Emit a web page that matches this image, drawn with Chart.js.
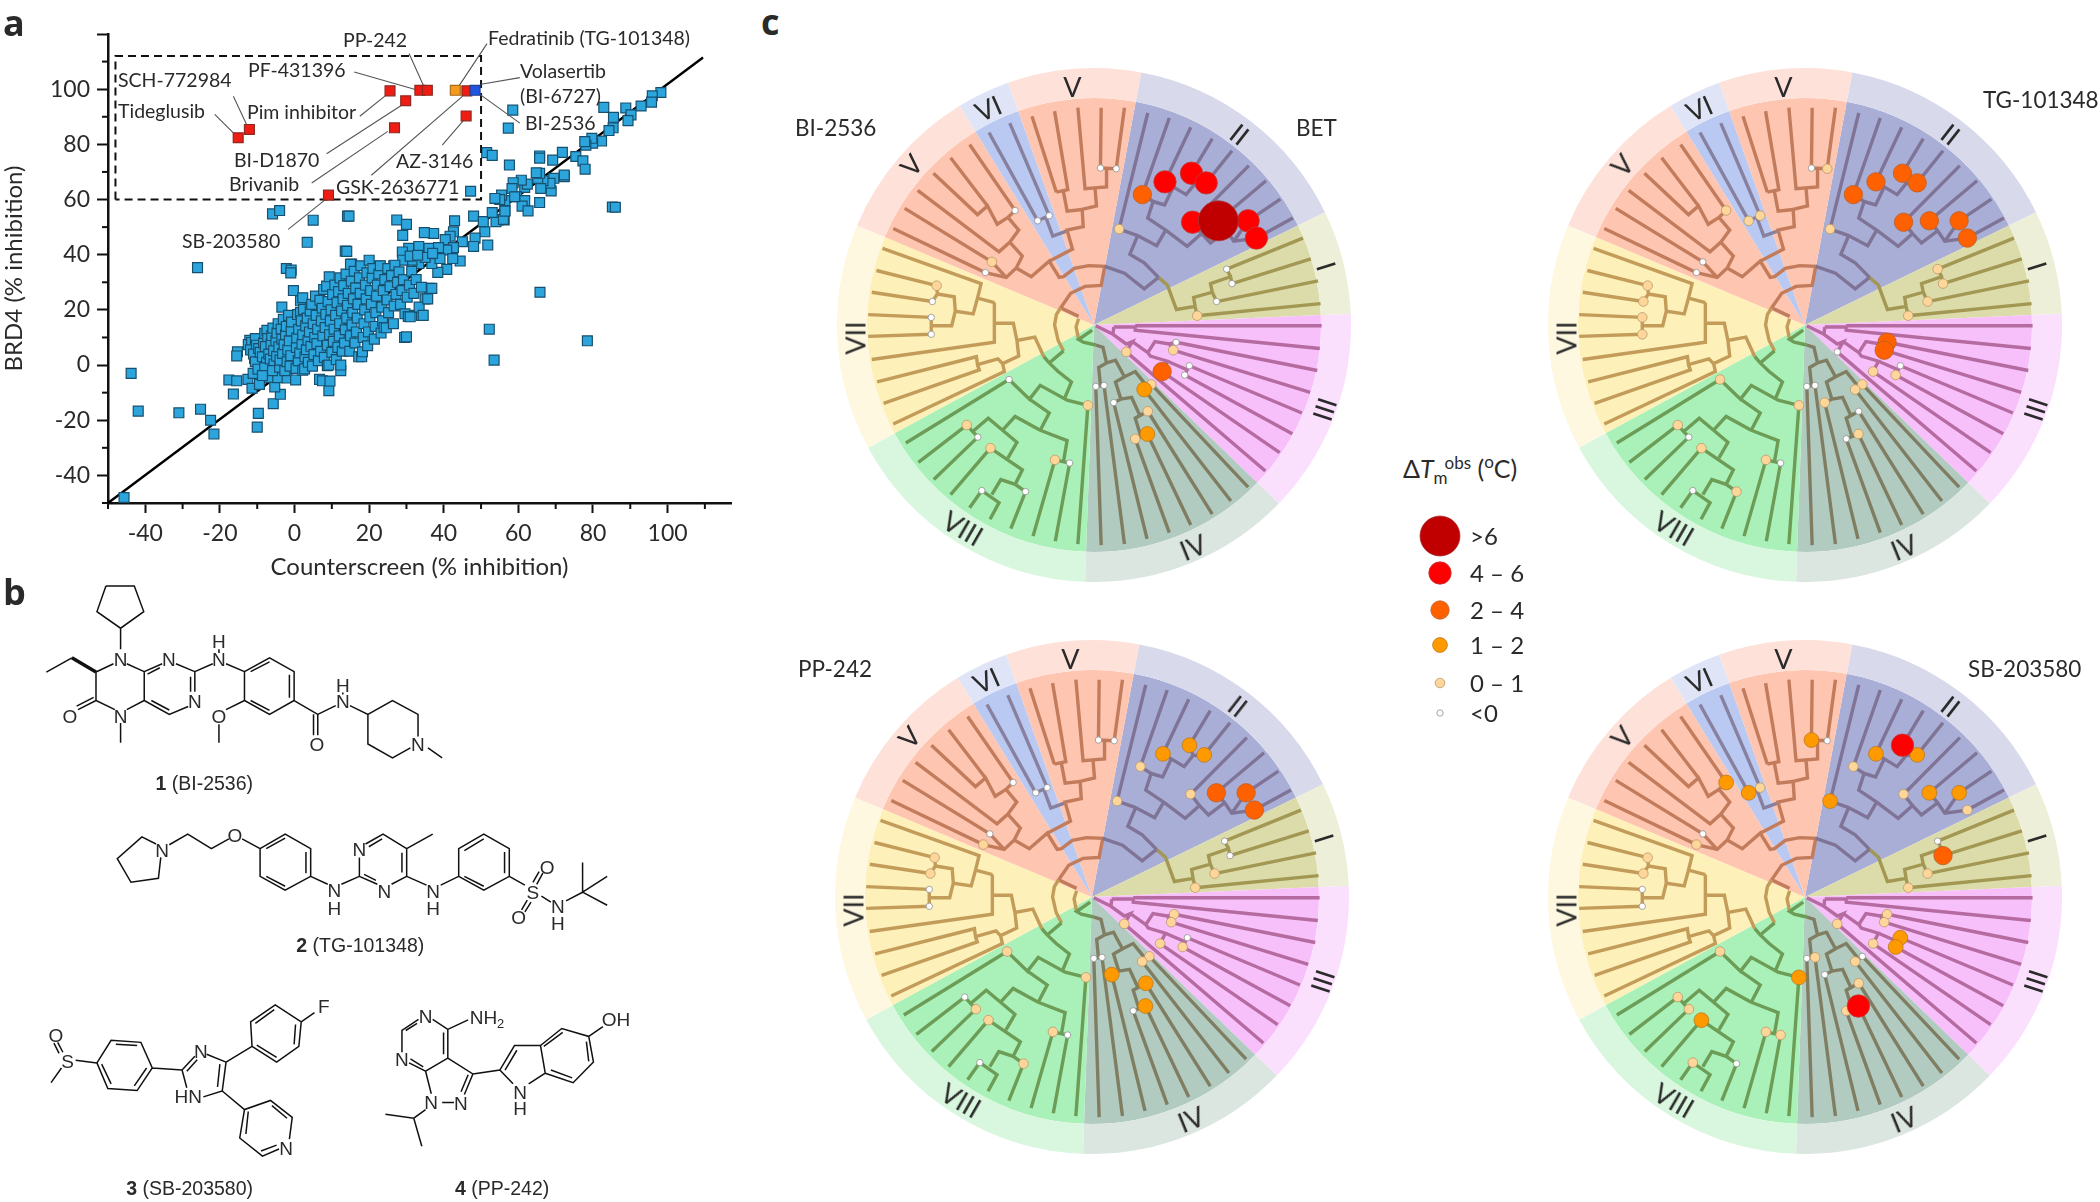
<!DOCTYPE html>
<html>
<head>
<meta charset="utf-8">
<title>BRD4 counterscreen and kinase wheels</title>
<script src="https://cdn.jsdelivr.net/npm/chart.js@4"></script>
<style>
  html, body { margin: 0; padding: 0; background: #fff; }
  #page { position: relative; width: 2100px; height: 1202px; overflow: hidden; font-family: Lato, sans-serif; color: #2a2a2a; }
  #page canvas { position: absolute; }
  .txt { position: absolute; white-space: nowrap; line-height: 1; }
  sub, sup { font-size: 68%; line-height: 0; }
</style>
</head>
<body>
<div id="page"></div>
<script>
// ---------- panel a: values, [counterscreen, BRD4] ----------
const upperArm = [[98.2,98.8],[95.9,97.6],[95.7,95.3],[92.9,93.9],[88.8,93.2],[90.2,90.7],[89.4,88.6],[82.9,93.4],[85.5,89.8],[85.4,86],[84.3,85],[82.3,81.2],[79.9,80.4],[79.7,82.2],[78.1,79.7],[77.8,81],[71.8,77.1],[69.2,74.3],[65.7,75.8],[65.7,75],[75.4,75.6],[77.3,74],[77.9,71],[58.5,92.4],[57.3,85.9],[57.6,72.5],[72.3,68.3],[72.3,68.9],[69.5,67.7],[68.8,63.1],[68.5,65.9],[66.6,66.8],[66,64],[65.2,67.7],[65.7,69.5],[64.8,69.7],[61.7,64.4],[62.4,65.6],[60.8,67],[58.6,66.1],[58.3,64],[59.5,61],[56.4,59.6],[61.7,59.6],[61,57.6],[62.6,55.9],[65.7,58.9],[85.2,57.3],[56.4,56],[55.5,61.6],[54.6,52.6],[56.2,52.6],[51.5,77],[53,76],[47.2,63]];
const middleArm = [[14.2,54],[27.4,52.6],[30,51],[29,47],[42.9,52.3],[48,54],[50.6,52],[54,52],[56,52.8],[56.4,55.8],[53,55.3],[55,60],[53.7,60.4],[59,61],[51,48.3],[48.4,46],[48,43],[51.8,43.5],[45,44.7],[42.6,48.3],[41.7,46.7],[40.4,45.5],[37.3,47.7],[34.8,48],[36,42.3],[33.3,43],[30.6,42.3],[28.9,41],[42.6,42.6],[40.8,41.7],[38.6,42.6],[44.4,37.7],[42.4,38.6],[40.8,34.7],[38.4,33.6],[36.8,36.8],[33.3,36.8],[31.5,38],[29,38],[39,38.6],[13.6,41.3],[15.3,36.6],[22.8,35.9],[26.6,36],[36.2,27.8],[35,24],[30.6,18],[34,18],[31,39.5],[35,39],[37,40.5],[33,39.8]];
const strays = [[-26,35.3],[-5.9,54.8],[-4,56],[5,52.5],[3.4,44.5],[-2.2,35],[-0.9,34.4],[-1,33.4],[-0.3,27],[65.8,26.4],[86,57.2],[-43.8,-3],[-41.9,-16.7],[-31,-17.3],[-25.2,-16],[-22.5,-20],[-21.6,-25],[-45.7,-48],[52.2,13],[53.5,1.8],[78.5,8.8],[-9.7,-17.5],[-10,-22.5],[-5.7,-14],[-3.8,-10.6],[-16.4,-10.5],[-17.6,-5.4],[-15.5,-5.7],[-15.3,4.8],[-15.5,3.3]];
const clusterLow = [[-12.5,-5.2],[-11.4,-8.4],[-9.4,-7],[-5.3,-7.9],[-6.7,-4.5],[-4.5,-4.6],[-2,-4.7],[-11.1,-3],[-8.5,0.6],[-10.7,2.4],[-12,9],[-12.4,7.4],[-11.5,8.2],[-11.8,5.5],[-10.5,9.6],[-10.2,7.2],[-11,4],[-10.5,1.2],[-9.6,6],[-9.2,4.6],[-9.8,-1.5],[-8.6,3],[-8.3,8],[-8,11.5],[-7.4,12.6],[-7.2,9.6],[-7.8,6.7],[-7.5,1],[-8,-1],[-8.6,-3.8],[-6.9,4],[-6.5,2.2],[-6.3,7.6],[-6.1,10.7],[-5.8,13.4],[-5.6,5.2],[-5.5,0.4],[-5.9,-2],[-5,8.8],[-4.8,3.2],[-4.7,11.6],[-4.4,15],[-4.2,6.6],[-4,-0.8],[-3.9,1.8],[-3.6,13],[-3.4,9.4],[-3.4,21],[-3.2,4.2],[-3,16.6],[-2.8,7.4],[-2.6,-2],[-2.4,11],[-2.2,14],[-2,1.2],[-1.8,5.5],[-1.6,18],[-1.4,8.8],[-1.2,-0.4],[-1,3.4],[-0.9,12.4],[-0.8,15.6]];
const clusterMid = [[0.3,-5.4],[0.4,-1.2],[0.5,6.4],[0.6,9.8],[0.8,18.3],[1,1.6],[1.1,13],[1.4,4.4],[1.6,19],[1.6,23.3],[1.8,16],[2,7.6],[2.2,-1.9],[2.2,11],[2.2,24.4],[2.4,20.2],[2.7,-1.4],[2.8,3],[3,14.2],[3.2,5.6],[3.4,17],[3.6,9],[3.7,1],[4,12],[4.2,19.6],[4.4,6.8],[4.6,22],[4.8,-0.4],[5,15],[5.2,3.8],[5.4,10],[5.6,25],[5.8,18],[6,7.8],[6.2,13],[6.4,1.6],[6.7,-5.2],[6.8,23.5],[7,5],[7.2,16],[7.4,20.6],[7.5,-5.7],[7.6,10.6],[7.8,27.4],[8,2.8],[8.2,13.6],[8.4,18.4],[8.6,28.6],[8.8,-0.2],[8.8,7.2],[9,23],[9.2,0],[9.2,-9.3],[9.3,32],[9.4,11],[9.5,-5.8],[9.6,16],[9.8,20],[10,4.6],[10.2,25.6],[10.4,8.6],[10.6,13],[10.8,29],[11,18],[11.2,2],[11.4,22.6],[11.6,6.4],[11.8,26.6],[12,10.6],[12.1,15],[12.2,31.6],[12.4,-2],[12.4,0],[12.6,19.6],[12.8,5]];
const clusterHigh = [[13,24],[13.2,28.8],[13.4,8],[13.6,12.8],[13.8,33],[14,17],[14,41.2],[14.2,21.6],[14.4,26],[14.6,54],[14.8,5],[15,10.6],[15,36.5],[15.2,30.4],[15.4,14.6],[15.6,19],[15.8,24],[16,34],[16.2,8],[16.4,28],[16.6,12],[16.8,17],[17,22],[17.2,3],[17.4,31.6],[17.6,26],[17.8,36],[18,3],[18.2,4.8],[18.4,10],[18.6,15],[18.8,20],[19,29],[19.2,24],[19.4,33.4],[19.6,7],[19.8,12],[20,38],[20.2,17.4],[20.4,27],[20.6,22],[20.8,31.6],[21,35],[21.4,9.4],[21.6,14],[21.8,19],[22,25],[22.2,29],[22.6,33],[23,36],[23.2,11.6],[23.4,21],[23.6,16],[23.8,27],[24,13.6],[24.2,31],[24.6,13.5],[24.8,23.6],[25,35],[25.2,19],[25.6,28.4],[26,32.4],[26.5,15],[26.7,21.4],[26.9,36.2],[27.2,25.6],[27.6,30],[28,33.8],[28.4,22],[28.8,27],[29.2,31],[29.5,10],[29.6,18.6],[30,10.2],[30.2,24.6],[30.5,17.6],[30.8,29],[31,17.5],[31.4,34],[32,26],[32.6,31],[33.4,21],[34,28.2],[34.5,18],[35.7,24],[36.8,27.8]];
const hitsRed = [[-15.1,82.4],[-12.1,85.4],[25.6,99.4],[29.8,95.8],[26.8,86],[33.6,99.6],[35.6,99.6],[46.2,99.4],[46,90.3],[9.1,61.6]];
const hitOrange = [[43.1,99.6]];
const hitBlue = [[48.4,99.6]];
const identityLine = [[-50,-50],[109.5,111.5]];
const hitWindow = [[-48,60],[-48,112],[50,112],[50,60],[-48,60]];
const leaderLines = [
  [[30.7,112.9],[34.8,100.6]], [[16,106.2],[32.6,99.8]], [[51.6,116.5],[44,101]], [[60.4,104.2],[50,101.8]],
  [[60.4,87.7],[49.7,98.1]], [[-16.4,97.4],[-12.6,86.5]], [[-21.4,90.9],[-16,83.6]], [[17.5,90.2],[24.8,98.1]],
  [[8.6,76.6],[28.6,94.1]], [[4.6,66],[25,84.7]], [[20.6,68.8],[45,97.4]], [[39.6,79.7],[45.3,88.7]], [[-1.7,49.2],[8,59.7]]
];
const hitLabels = [
  ["PP-242",343,40],["Fedratinib (TG-101348)",488,38],["PF-431396",248,70],["SCH-772984",118,80],
  ["Volasertib",520,71],["(BI-6727)",520,96],["Tideglusib",118,111],["Pim inhibitor",247,112],
  ["BI-2536",525,123],["BI-D1870",234,160],["AZ-3146",396,161],["Brivanib",229,184],
  ["GSK-2636771",336,187],["SB-203580",182,241]
];

// ---------- panel c: clade sectors, degrees clockwise starting at 10.6 ----------
const cladeNames = ["II","I","III","IV","VIII","VII","V","VI","V"];
const cladeSpan = [53.4,23.5,46.5,48,59.5,51.3,35.7,12,30.1];
const cladeInner = ["#a9aed6","#dcdcab","#f7c0fb","#b2cbc0","#a9f1b8","#fdf0b9","#fec5b1","#b9c9f1","#fec5b1"];
const cladeOuter = ["#d8daec","#edefd8","#fbe0fe","#dce6e1","#d9f7df","#fef8e1","#fee1d9","#dfe5f7","#fee1d9"];

// tree branches, traced in the units of the first wheel
const treeII = [[[795,600],[850,620],[905,665],[945,632]],[[945,632],[905,590],[865,565],[885,515]],[[835,492],[885,510],[940,540],[965,495]],[[835,492],[915,155]],[[965,495],[915,460],[930,412],[900,392]],[[900,392],[975,170]],[[930,412],[962,422],[985,372]],[[963,355],[1022,392],[1047,360]],[[1037,330],[1047,360],[1078,358]],[[963,355],[1035,197]],[[1037,330],[1095,230]],[[1078,358],[1150,265]],[[965,495],[1025,542],[1065,505],[1040,472]],[[1065,505],[1090,532],[1135,497],[1112,468]],[[1135,497],[1155,527],[1218,518]],[[1155,527],[1195,468]],[[1040,472],[1197,308]],[[1112,468],[1245,352]],[[1195,468],[1285,405]],[[1218,518],[1320,460]]];
const treeI = [[[945,632],[970,655],[995,725],[1047,716],[1053,743]],[[1053,743],[1397,708]],[[1047,716],[1043,690],[1095,675],[1107,702]],[[1107,702],[1390,642]],[[1095,675],[1090,650],[1146,630],[1150,650]],[[1150,650],[1370,578]],[[1146,630],[1135,608]],[[1135,608],[1348,518]]];
const treeIII = [[[770,772],[818,797]],[[820,776],[818,797]],[[820,776],[880,776]],[[880,772],[1400,772]],[[880,772],[880,785],[1395,838]],[[818,797],[855,825],[872,818],[855,848]],[[855,848],[1243,1193]],[[872,818],[915,850],[935,818],[975,825],[994,820]],[[975,825],[986,843]],[[994,820],[1388,902]],[[986,843],[1368,965]],[[915,850],[922,860],[970,875],[955,905]],[[955,905],[1283,1140]],[[970,875],[1025,900],[1031,888]],[[1025,900],[1018,915]],[[1031,888],[1345,1025]],[[1018,915],[1318,1085]]];
const treeIV = [[[770,828],[790,835],[800,880],[778,893],[783,945]],[[770,948],[793,945]],[[770,948],[785,1408]],[[793,945],[850,1405]],[[800,880],[825,872],[850,920],[825,935],[840,985],[820,995]],[[820,995],[913,1390]],[[850,920],[880,905],[915,950]],[[905,957],[925,942]],[[905,957],[1147,1280]],[[925,942],[1195,1240]],[[840,985],[870,980],[892,1030]],[[915,1020],[880,1040],[895,1090]],[[880,1100],[914,1086]],[[880,1100],[975,1372]],[[914,1086],[1035,1350]],[[915,1020],[1095,1318]]];
const treeVIII = [[[760,785],[722,812],[735,820],[770,828]],[[680,845],[640,880]],[[625,862],[640,880],[665,905],[702,935],[682,985]],[[748,1003],[690,988],[615,945],[585,985],[528,928]],[[528,928],[240,1112]],[[585,985],[640,1025],[615,1075]],[[748,1003],[720,1405]],[[615,1075],[690,1105],[680,1165]],[[656,1161],[697,1170]],[[656,1161],[595,1382]],[[697,1170],[657,1397]],[[615,1075],[545,1035],[510,1075]],[[510,1075],[470,1040],[425,1080]],[[410,1060],[441,1095]],[[410,1060],[275,1168]],[[441,1095],[318,1218]],[[510,1075],[550,1110],[525,1155]],[[476,1127],[565,1190],[545,1232]],[[476,1127],[365,1262]],[[574,1253],[545,1232],[505,1218],[480,1262]],[[452,1250],[500,1285],[475,1333]],[[452,1250],[418,1300]],[[574,1253],[533,1360]]];
const treeVII = [[[680,845],[665,815],[655,770],[660,740],[672,720]],[[722,752],[715,775],[722,812]],[[625,862],[600,805],[550,815],[540,765],[487,765]],[[487,705],[487,820],[145,870]],[[487,705],[440,692],[450,650],[175,548]],[[440,692],[428,738],[378,730],[375,688],[328,680]],[[326,656],[328,680],[314,702]],[[326,656],[158,612]],[[314,702],[145,675]],[[378,730],[368,772],[312,772]],[[311,748],[311,797]],[[311,748],[135,740]],[[311,797],[135,803]],[[550,815],[555,860],[510,882],[497,868],[440,885],[437,862],[160,935]],[[440,885],[445,900],[178,997]],[[510,882],[515,905],[205,1057]]];
const treeV = [[[722,745],[672,720],[700,678],[740,658],[785,655],[795,600],[750,598],[710,606],[680,630],[668,632],[640,585],[590,630],[548,605],[565,570],[530,530],[500,558],[273,380]],[[548,605],[520,632],[462,618],[205,490]],[[520,632],[480,587],[237,432]],[[530,530],[555,495],[525,458],[545,438],[418,247]],[[525,458],[495,478],[468,425],[440,450],[317,330]],[[468,425],[365,285]],[[640,585],[705,550],[690,495],[735,485],[732,435],[690,440],[680,385]],[[660,385],[692,378],[655,150]],[[660,385],[592,165]],[[732,435],[772,425],[768,375]],[[720,140],[740,375],[800,370],[800,320]],[[785,140],[783,315],[827,317],[850,140]]];
const treeVI = [[[690,497],[650,512],[632,462]],[[608,468],[640,453],[530,185]],[[608,468],[472,212]]];
const treeSets = [[treeII,"#7f7396"],[treeI,"#a39853"],[treeIII,"#b56ba0"],[treeIV,"#807e62"],[treeVIII,"#6c9c56"],[treeVII,"#c39c59"],[treeV,"#c27c5b"],[treeVI,"#87819f"]];

// kinases that were screened, same order in every wheel
const kinaseNodes = [[835,492],[900,392],[963,355],[1037,330],[1078,358],[1040,472],[1112,468],[1195,468],[1218,518],[1135,608],[1150,650],[1107,702],[1053,743],[855,848],[994,820],[986,843],[955,905],[1031,888],[1018,915],[925,942],[905,957],[770,948],[793,945],[820,995],[915,1020],[880,1100],[914,1086],[748,1003],[528,928],[410,1060],[441,1095],[476,1127],[656,1161],[697,1170],[574,1253],[452,1250],[326,656],[314,702],[311,748],[311,797],[480,587],[462,618],[545,438],[608,468],[640,453],[783,315],[827,317]];
// temperature shift bin per node: 0 is <0, 1 is 0-1, 2 is 1-2, 3 is 2-4, 4 is 4-6, 5 is >6
const binsBI2536 = [1,3,4,4,4,4,5,4,4,0,0,0,1,1,0,1,3,0,0,1,2,0,0,0,1,1,2,1,0,1,0,1,1,0,0,0,1,0,0,0,1,0,0,0,0,0,0];
const binsTG101348 = [1,3,3,3,3,3,3,3,3,1,1,1,1,0,3,3,1,0,1,1,1,0,0,1,0,0,1,1,1,1,0,1,1,0,1,0,1,1,1,1,0,0,1,1,1,0,1];
const binsPP242 = [1,1,2,2,2,1,3,3,3,0,0,1,1,1,1,1,1,0,1,1,1,0,0,2,2,0,2,1,1,0,1,1,1,0,1,0,1,1,0,0,0,1,0,0,0,0,0];
const binsSB203580 = [2,1,2,4,2,1,2,2,1,0,3,1,1,1,1,1,1,2,2,0,1,0,1,0,1,1,4,2,1,1,1,2,1,1,0,1,1,1,0,0,0,1,2,2,1,2,0];
const binFill = ["#ffffff","#ffd699","#ff9900","#ff6000","#ff0000","#c00000"];
const binEdge = ["#8f8f8f","#b9986a","#b97a20","#b9602a","#c23a3a","#a83838"];
const binRadius = [3.2,4.8,7.4,9.2,11.2,20];

const wheelNames = ["BI-2536","TG-101348","PP-242","SB-203580"];
const wheelBins = [binsBI2536,binsTG101348,binsPP242,binsSB203580];
const wheelCentres = [[1094,325],[1805,325],[1092,897],[1805,897]];
const ringLabels = [["V",705,78,0],["VI",470,140,-24],["V",255,305,-48],["VII",97,808,-90],["VIII",400,1360,30],["IV",1040,1415,-22],["III",1408,1015,-72],["I",1415,600,72],["II",1172,215,38]];
const wheelTitles = [["BI-2536",795,128],["BET",1296,128],["TG-101348",1983,100],["PP-242",798,669],["SB-203580",1968,669]];

const legendBins = [5,4,3,2,1,0];
const legendTexts = [">6","4 – 6","2 – 4","1 – 2","0 – 1","<0"];
const legendY = [536,573,610,645,683,713];

// ---------- panel b: bonds of the four compounds, in sketch units ----------
const bonds1 = [[[224,15],[284,15],[304,80],[255,122],[205,80],[224,15]],[[255,122],[255,175]],[[240,212],[203,233],[203,305],[243,328]],[[268,328],[305,305],[305,232],[268,212]],[[305,232],[343,212]],[[312,238],[338,222]],[[372,212],[412,232],[412,283]],[[403,245],[403,283]],[[398,320],[358,340],[305,305]],[[358,329],[320,305]],[[203,305],[165,328]],[[198,297],[162,319]],[[255,362],[255,412]],[[152,197],[98,233]],[[412,232],[450,212]],[[478,212],[517,232]],[[517,232],[570,197],[622,232],[622,305],[570,340],[517,305],[517,232]],[[530,232],[570,207]],[[612,240],[612,298]],[[570,330],[530,305]],[[517,305],[478,328]],[[463,365],[463,412]],[[622,305],[672,340],[672,393]],[[663,340],[663,393]],[[672,340],[710,318]],[[740,318],[778,340],[830,305],[884,340],[884,396]],[[868,425],[830,450],[778,415],[778,340]],[[905,425],[935,450]],[[463,175],[463,185]],[[725,285],[725,290]]];
const bonds2 = [[[330,668],[300,650],[248,705],[277,765],[335,755],[340,702]],[[358,670],[397,643],[447,680],[484,655]],[[512,655],[550,680]],[[550,680],[603,643],[657,680],[657,750],[603,785],[550,750],[550,680]],[[563,680],[603,653]],[[647,688],[647,742]],[[603,775],[563,750]],[[657,750],[693,770]],[[722,770],[760,750],[760,702]],[[773,668],[810,643],[860,680],[860,750],[828,770]],[[798,770],[760,750]],[[780,675],[808,655]],[[850,690],[850,740]],[[795,760],[770,745]],[[860,680],[915,643]],[[860,750],[902,772]],[[932,772],[970,750],[970,680],[1023,643],[1077,680],[1077,750],[1023,785],[970,750]],[[982,685],[1023,655]],[[1067,688],[1067,742]],[[1023,775],[982,750]],[[1077,750],[1110,772]],[[1135,770],[1148,742]],[[1127,765],[1140,738]],[[1115,810],[1103,835]],[[1123,815],[1110,840]],[[1145,800],[1165,815]],[[1197,812],[1232,790],[1232,715]],[[1232,790],[1284,750]],[[1232,790],[1284,823]]];
const bonds3 = [[[108,1272],[130,1235]],[[133,1195],[122,1170]],[[125,1198],[114,1172]],[[160,1215],[205,1222]],[[205,1222],[235,1165],[298,1170],[322,1235],[290,1292],[228,1287],[205,1222]],[[245,1175],[290,1178]],[[310,1235],[284,1280]],[[235,1275],[215,1225]],[[322,1235],[385,1240],[412,1205]],[[395,1243],[417,1214]],[[437,1200],[478,1220],[470,1293],[430,1308]],[[465,1225],[460,1283]],[[395,1285],[385,1240]],[[478,1220],[533,1180],[530,1118],[582,1075],[637,1118],[632,1180],[585,1220],[533,1180]],[[540,1122],[580,1087]],[[625,1125],[622,1175]],[[585,1208],[543,1177]],[[637,1118],[665,1095]],[[470,1293],[517,1340],[572,1317],[618,1360],[612,1415]],[[590,1440],[555,1458],[507,1412],[517,1340]],[[525,1345],[520,1402]],[[575,1330],[607,1362]],[[552,1445],[585,1430]]];
const bonds4 = [[[850,1195],[850,1140],[885,1112]],[[915,1112],[947,1137],[947,1210],[900,1243],[865,1222]],[[858,1140],[882,1122]],[[938,1145],[938,1200]],[[895,1232],[868,1212]],[[947,1137],[990,1113]],[[947,1210],[1000,1250],[982,1302]],[[990,1252],[975,1295]],[[960,1322],[935,1322]],[[912,1300],[900,1243]],[[900,1340],[875,1362],[815,1352]],[[875,1362],[892,1433]],[[1000,1250],[1057,1240],[1088,1178],[1143,1178],[1153,1248],[1118,1275]],[[1085,1275],[1057,1240]],[[1068,1240],[1093,1190]],[[1143,1178],[1188,1135],[1245,1155],[1255,1220],[1212,1272],[1153,1248]],[[1150,1180],[1190,1145]],[[1240,1168],[1245,1218]],[[1210,1260],[1165,1240]],[[1245,1155],[1275,1130]]];
const wedgeBond = [[[203,233],[152,197]]];
const atomLabels = [["N",255,200],["N",357,200],["N",412,305],["N",255,345],["O",148,343],["N",463,200],["H",463,155],["O",463,345],["N",725,305],["H",725,265],["O",670,415],["N",884,415],
  ["N",343,682],["O",497,645],["N",760,680],["N",813,787],["N",707,785],["H",707,830],["N",916,787],["H",916,830],["S",1127,790],["O",1157,725],["O",1097,852],["N",1180,825],["H",1180,868],
  ["O",118,1150],["S",143,1218],["N",425,1192],["HN",398,1305],["F",685,1078],["N",605,1438],
  ["N",900,1103],["N",850,1212],["N",912,1320],["N",975,1322],["N",1100,1295],["H",1100,1335],["OH",1303,1110]];
const compoundCaptions = [["1"," (BI-2536)",432,517],["2"," (TG-101348)",762,927],["3"," (SB-203580)",401,1540],["4"," (PP-242)",1062,1540]];

// ---------- helpers ----------
const page = document.getElementById("page");
const inkFont = "Lato, sans-serif";
const ink = "#2a2a2a";

function addCanvas(x, y, w, h) {
  const c = document.createElement("canvas");
  c.width = w; c.height = h;
  c.style.left = x + "px"; c.style.top = y + "px";
  c.style.width = w + "px"; c.style.height = h + "px";
  page.appendChild(c);
  return c.getContext("2d");
}
function addText(html, x, y, size, opts) {
  opts = opts || {};
  const d = document.createElement("div");
  d.className = "txt";
  d.innerHTML = html;
  d.style.left = x + "px"; d.style.top = y + "px";
  d.style.fontSize = size + "px";
  d.style.fontFamily = opts.family || inkFont;
  d.style.fontWeight = opts.weight || 400;
  d.style.transform = "translate(" + (opts.center ? "-50%" : "0") + ",-50%) rotate(" + (opts.rot || 0) + "deg)";
  page.appendChild(d);
}
function toPoints(pairs) { return pairs.map(p => ({x: p[0], y: p[1]})); }
function withGaps(lines) {
  const out = [];
  lines.forEach(l => { l.forEach(p => out.push({x: p[0], y: p[1]})); out.push({x: null, y: null}); });
  return out;
}
// autoPadding off: the big circles must not shrink the plot area
const baseOptions = {
  responsive: false, animation: false, events: [],
  layout: {autoPadding: false},
  plugins: {legend: {display: false}, tooltip: {enabled: false}}
};
function lineSet(data, color, width, extra) {
  return Object.assign({data: data, showLine: true, pointRadius: 0, borderColor: color, borderWidth: width, spanGaps: false, clip: false, borderCapStyle: "butt", borderJoinStyle: "miter"}, extra || {});
}
function squareSet(pairs, fill, edge) {
  return {data: toPoints(pairs), pointStyle: "rect", pointRadius: 7, backgroundColor: fill, borderColor: edge, borderWidth: 1.2, pointBorderColor: edge, clip: false};
}

// minor ticks at the odd tens, shorter than the labelled ones
const minorTicks = {
  id: "minorTicks",
  afterDraw(chart) {
    const c = chart.ctx, xs = chart.scales.x, ys = chart.scales.y;
    const tens = [-50,-30,-10,10,30,50,70,90,110];
    c.save();
    c.strokeStyle = "#111"; c.lineWidth = 2;
    tens.forEach(v => {
      const px = xs.getPixelForValue(v), py = ys.getPixelForValue(v);
      c.beginPath(); c.moveTo(px, ys.bottom); c.lineTo(px, ys.bottom + 6); c.stroke();
      c.beginPath(); c.moveTo(xs.left, py); c.lineTo(xs.left - 6, py); c.stroke();
    });
    c.restore();
  }
};

// ---------- panel a ----------
const tickFont = {family: inkFont, size: 23, weight: "400"};
const axisTitleFont = {family: inkFont, size: 24, weight: "400"};
new Chart(addCanvas(0, 0, 760, 600), {
  type: "scatter",
  data: {datasets: [
    squareSet(hitBlue, "#1f56e0", "#23408f"),
    squareSet(hitOrange, "#f59a1e", "#a86c1a"),
    squareSet(hitsRed, "#ee1c12", "#8c2a22"),
    lineSet(withGaps(leaderLines), "#555", 1.1),
    lineSet(toPoints(hitWindow), "#111", 2, {borderDash: [8, 5]}),
    squareSet([].concat(upperArm, middleArm, strays, clusterLow, clusterMid, clusterHigh), "#2ca5dc", "#17506f"),
    lineSet(toPoints(identityLine), "#000", 2.4)
  ]},
  options: Object.assign({}, baseOptions, {
    layout: {autoPadding: false, padding: {top: 34, right: 29, left: 0, bottom: 0}},
    scales: {
      x: {
        type: "linear", min: -50, max: 117,
        afterFit(s) { s.height = 97; },
        border: {display: true, color: "#111", width: 2.5},
        grid: {drawOnChartArea: false, tickLength: 10, tickColor: "#111", tickWidth: 2},
        ticks: {stepSize: 20, includeBounds: false, autoSkip: false, maxRotation: 0, padding: 7, color: ink, font: tickFont, callback: v => String(v)},
        title: {display: true, text: "Counterscreen (% inhibition)", color: ink, font: axisTitleFont, padding: {top: 0, bottom: 18}}
      },
      y: {
        type: "linear", min: -50, max: 120,
        afterFit(s) { s.width = 108; },
        border: {display: true, color: "#111", width: 2.5},
        grid: {drawOnChartArea: false, tickLength: 11, tickColor: "#111", tickWidth: 2},
        ticks: {stepSize: 20, includeBounds: false, autoSkip: false, padding: 7, color: ink, font: tickFont, callback: v => v > 100 ? "" : String(v)},
        title: {display: true, text: "BRD4 (% inhibition)", color: ink, font: axisTitleFont, padding: {top: 0, bottom: 0}}
      }
    }
  }),
  plugins: [minorTicks]
});
hitLabels.forEach(l => addText(l[0], l[1], l[2], 19.5));
addText("a", 3, 23, 36, {weight: 700, family: "'Open Sans', sans-serif"});
addText("b", 3, 592, 36, {weight: 700, family: "'Open Sans', sans-serif"});
addText("c", 761, 22, 36, {weight: 700, family: "'Open Sans', sans-serif"});

// ---------- panel b ----------
new Chart(addCanvas(0, 580, 741, 622), {
  type: "scatter",
  data: {datasets: [
    lineSet(withGaps([].concat(bonds1, bonds2, bonds3, bonds4)), "#111", 1.5),
    lineSet(withGaps(wedgeBond), "#111", 3.5)
  ]},
  options: Object.assign({}, baseOptions, {
    scales: {
      x: {type: "linear", display: false, min: 0, max: 1567},
      y: {type: "linear", display: false, min: 0, max: 1574, reverse: true}
    }
  })
});
const sketchX = x => x / 2.115, sketchY = y => 580 + y / 2.53;
const chemFont = "'Liberation Sans', Arial, sans-serif";
atomLabels.forEach(a => addText(a[0], sketchX(a[1]), sketchY(a[2]), 19, {center: true, family: chemFont}));
addText("NH<sub>2</sub>", sketchX(1030), sketchY(1105), 19, {center: true, family: chemFont});
compoundCaptions.forEach(c => addText("<b>" + c[0] + "</b>" + c[1], sketchX(c[2]), sketchY(c[3]), 19.5, {center: true, family: chemFont}));

// ---------- panel c ----------
function drawWheel(idx) {
  const cx = wheelCentres[idx][0], cy = wheelCentres[idx][1], r = 257;
  new Chart(addCanvas(cx - r, cy - r, 2 * r, 2 * r), {
    type: "pie",
    data: {labels: cladeNames, datasets: [
      {data: cladeSpan, backgroundColor: cladeOuter, borderWidth: 0, weight: 30},
      {data: cladeSpan, backgroundColor: cladeInner, borderWidth: 0, weight: 227}
    ]},
    options: Object.assign({}, baseOptions, {rotation: 10.6, cutout: 0})
  });
  const sets = [];
  for (let b = 0; b < binFill.length; b++) {
    const pts = kinaseNodes.filter((n, i) => wheelBins[idx][i] === b);
    sets.push({data: toPoints(pts), pointRadius: binRadius[b], backgroundColor: binFill[b], borderColor: binEdge[b], borderWidth: 0.8, clip: false, order: -b});
  }
  treeSets.forEach(t => sets.push(lineSet(withGaps(t[0]), t[1], 3.4, {order: 1})));
  new Chart(addCanvas(cx - r, cy - r, 2 * r, 2 * r), {
    type: "scatter",
    data: {datasets: sets},
    options: Object.assign({}, baseOptions, {
      scales: {
        x: {type: "linear", display: false, min: 48, max: 1482},
        y: {type: "linear", display: false, min: 25, max: 1515, reverse: true}
      }
    })
  });
  ringLabels.forEach(l => addText(l[0], cx + (l[1] - 765) / 2.79, cy + (l[2] - 770) / 2.9, 27, {center: true, rot: l[3]}));
}
wheelNames.forEach((n, i) => drawWheel(i));
wheelTitles.forEach(t => addText(t[0], t[1], t[2], 22.5));

// legend of the temperature shift bins
new Chart(addCanvas(1400, 500, 80, 240), {
  type: "scatter",
  data: {datasets: legendBins.map((b, i) => ({
    data: [{x: 40, y: legendY[i]}], pointRadius: binRadius[b], backgroundColor: binFill[b], borderColor: binEdge[b], borderWidth: 0.8, clip: false, order: i
  }))},
  options: Object.assign({}, baseOptions, {
    scales: {
      x: {type: "linear", display: false, min: 0, max: 80},
      y: {type: "linear", display: false, min: 500, max: 740, reverse: true}
    }
  })
});
legendTexts.forEach((t, i) => addText(t.replace("<", "&lt;").replace(">", "&gt;"), 1470, legendY[i], 24));
addText("Δ<i>T</i><sub>m</sub><sup style='margin-left:-3px'>obs</sup> (<sup>o</sup>C)", 1403, 468, 25);
</script>
</body>
</html>
